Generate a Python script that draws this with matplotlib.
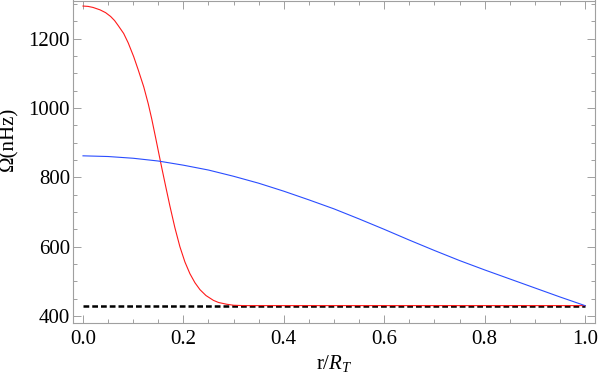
import matplotlib
matplotlib.use("Agg")
import matplotlib.pyplot as plt
from matplotlib.ticker import MultipleLocator

# Data
red_r = [0.0, 0.01, 0.02, 0.034, 0.045, 0.055, 0.063, 0.07, 0.081, 0.09, 0.101, 0.11, 0.121,
         0.13, 0.137, 0.145, 0.152, 0.158, 0.165, 0.173, 0.183, 0.193, 0.203, 0.213,
         0.223, 0.233, 0.245, 0.26, 0.27, 0.286, 0.30, 0.32, 1.0]
red_omega = [1294, 1293, 1290, 1283, 1275, 1264, 1252, 1238, 1215, 1188, 1148, 1110, 1061,
             1012, 968, 912, 862, 820, 772, 718, 655, 600, 556, 522,
             496, 476, 459, 445, 439, 434, 431, 430, 430]

blue_r = [0.0, 0.05, 0.1, 0.15, 0.2, 0.25, 0.3, 0.35, 0.4, 0.45, 0.5, 0.55, 0.6,
          0.65, 0.7, 0.75, 0.8, 0.85, 0.9, 0.95, 1.0]
blue_omega = [862, 860, 855, 847, 835, 821, 803, 783, 760, 735, 709, 680, 650,
              619, 589, 560, 533, 507, 481, 455, 430]

base_r = [0.0, 1.0]
base_omega = [430, 430]

x_ticks = [0.0, 0.2, 0.4, 0.6, 0.8, 1.0]
x_tick_labels = ["0.0", "0.2", "0.4", "0.6", "0.8", "1.0"]
y_ticks = [400, 600, 800, 1000, 1200]
y_tick_labels = ["400", "600", "800", "1000", "1200"]

plt.rcParams['font.family'] = ['Liberation Serif', 'DejaVu Serif']
plt.rcParams['mathtext.fontset'] = 'custom'
plt.rcParams['mathtext.rm'] = 'Liberation Serif'
plt.rcParams['mathtext.it'] = 'Liberation Serif:italic'

fig = plt.figure(figsize=(5.99, 3.75), dpi=100)
ax = fig.add_axes([72.7 / 599, 1 - 322.7 / 375, (595 - 72.7) / 599, (322.7 - 0.5) / 375])

ax.plot(base_r, base_omega, color='black', lw=1.8, dashes=(2.3, 1.2), zorder=2)
ax.plot(red_r, red_omega, color='#ff1a1a', lw=0.8, zorder=3)
ax.plot(blue_r, blue_omega, color='#2a4dff', lw=0.8, zorder=3)

ax.set_xlim(-0.0205, 1.0199)
ax.set_ylim(380.7, 1310)

ax.set_xticks(x_ticks)
ax.set_xticklabels(x_tick_labels)
ax.set_yticks(y_ticks)
ax.set_yticklabels(y_tick_labels)
ax.xaxis.set_minor_locator(MultipleLocator(0.05))
ax.yaxis.set_minor_locator(MultipleLocator(50))

gray = '#a0a0a0'
for s in ax.spines.values():
    s.set_color(gray)
    s.set_linewidth(0.8)
ax.tick_params(which='both', direction='in', top=True, right=True, color=gray,
               labelsize=15, width=0.7)
ax.tick_params(which='major', length=5.5)
ax.tick_params(which='minor', length=2.7)
ax.tick_params(axis='x', which='major', pad=5)
ax.tick_params(axis='y', which='major', pad=2)

ax.set_xlabel(r'r/$R_T$', fontsize=15)
ax.xaxis.label.set_va('baseline')
ax.xaxis.set_label_coords(0.5, -0.145)
ax.set_ylabel('Ω(nHz)', fontsize=15)
ax.yaxis.set_label_coords(-0.104, 0.572)

fig.savefig('out.png', dpi=100)
